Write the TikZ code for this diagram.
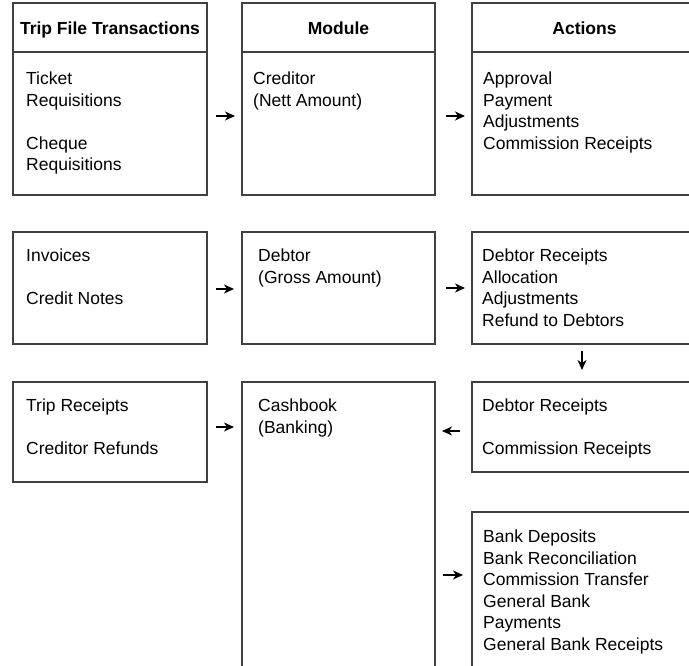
\documentclass[tikz,border=0pt]{standalone}
\usepackage{fontspec}
\setmainfont{Liberation Sans}
\usetikzlibrary{arrows.meta,calc}
\begin{document}
\begin{tikzpicture}[x=1pt,y=-1pt,
  box/.style={draw=black!75, line width=1.2pt, rectangle, anchor=north west, inner sep=0pt, outer sep=0pt},
  divider/.style={draw=black!75, line width=1.2pt},
  txt/.style={anchor=north west, inner sep=0pt, align=left, font=\fontsize{17.5}{21.5}\selectfont},
  hdr/.style={anchor=base, inner sep=0pt, font=\fontsize{17.5}{21.5}\selectfont\bfseries},
  arr/.style={-{Stealth[length=10pt,width=9pt,inset=3pt]}, line width=1.1pt, black}
]
\useasboundingbox (0,0) rectangle (689,665);
\clip (0,0) rectangle (689,665);

% Row 1
\node[box, minimum width=194pt, minimum height=192pt] (A1) at (13,3) {};
\node[box, minimum width=193pt, minimum height=192pt] (B1) at (242,3) {};
\node[box, minimum width=225pt, minimum height=192pt] (C1) at (472,3) {};
\draw[divider] ([yshift=-49pt]A1.north west) -- ([yshift=-49pt]A1.north east);
\draw[divider] ([yshift=-49pt]B1.north west) -- ([yshift=-49pt]B1.north east);
\draw[divider] ([yshift=-49pt]C1.north west) -- ([yshift=-49pt]C1.north east);
\node[hdr] (hA) at (110,34.5) {Trip File Transactions};
\node[hdr] (hB) at (338.5,34.5) {Module};
\node[hdr] (hC) at (584.5,34.5) {Actions};
\node[txt] (tA1) at (26,72) {Ticket\\Requisitions\\\mbox{}\\Cheque\\Requisitions};
\node[txt] (tB1) at (253,72) {Creditor\\(Nett Amount)};
\node[txt] (tC1) at (483,72) {Approval\\Payment\\Adjustments\\Commission Receipts};

% Row 2
\node[box, minimum width=194pt, minimum height=112pt] (A2) at (13,232) {};
\node[box, minimum width=193pt, minimum height=112pt] (B2) at (242,232) {};
\node[box, minimum width=225pt, minimum height=112pt] (C2) at (472,232) {};
\node[txt] (tA2) at (26,249) {Invoices\\\mbox{}\\Credit Notes};
\node[txt] (tB2) at (258,249) {Debtor\\(Gross Amount)};
\node[txt] (tC2) at (482,249) {Debtor Receipts\\Allocation\\Adjustments\\Refund to Debtors};

% Row 3
\node[box, minimum width=194pt, minimum height=100pt] (A3) at (13,382) {};
\node[box, minimum width=193pt, minimum height=300pt] (B3) at (242,382) {};
\node[box, minimum width=225pt, minimum height=90pt] (C3) at (472,382) {};
\node[box, minimum width=225pt, minimum height=170pt] (C4) at (472,512) {};
\node[txt] (tA3) at (26,399) {Trip Receipts\\\mbox{}\\Creditor Refunds};
\node[txt] (tB3) at (258,399) {Cashbook\\(Banking)};
\node[txt] (tC3) at (482,399) {Debtor Receipts\\\mbox{}\\Commission Receipts};
\node[txt] (tC4) at (483,530) {Bank Deposits\\Bank Reconciliation\\Commission Transfer\\General Bank\\Payments\\General Bank Receipts};

% Connectors
\coordinate (p1) at ([yshift=-17pt]A1.east);
\draw[arr, shorten <=9pt, shorten >=7pt] (p1) -- (p1 -| B1.west);
\coordinate (p2) at ([yshift=-17pt]B1.east);
\draw[arr, shorten <=11pt, shorten >=7pt] (p2) -- (p2 -| C1.west);
\coordinate (p3) at ([yshift=-1pt]A2.east);
\draw[arr, shorten <=9pt, shorten >=8pt] (p3) -- (p3 -| B2.west);
\coordinate (p4) at (B2.east);
\draw[arr, shorten <=11pt, shorten >=7pt] (p4) -- (p4 -| C2.west);
\coordinate (p5) at ([xshift=-2.5pt]C2.south);
\draw[arr, shorten <=7pt, shorten >=12pt] (p5) -- (p5 |- C3.north);
\coordinate (p6) at ([yshift=5pt]A3.east);
\draw[arr, shorten <=9pt, shorten >=8pt] (p6) -- (p6 -| B3.west);
\coordinate (p7) at ([yshift=-4pt]C3.west);
\draw[arr, shorten <=12pt, shorten >=7pt] (p7) -- (p7 -| B3.east);
\coordinate (p8) at ([yshift=-43pt]B3.east);
\draw[arr, shorten <=8pt, shorten >=9pt] (p8) -- (p8 -| C4.west);
\end{tikzpicture}
\end{document}
